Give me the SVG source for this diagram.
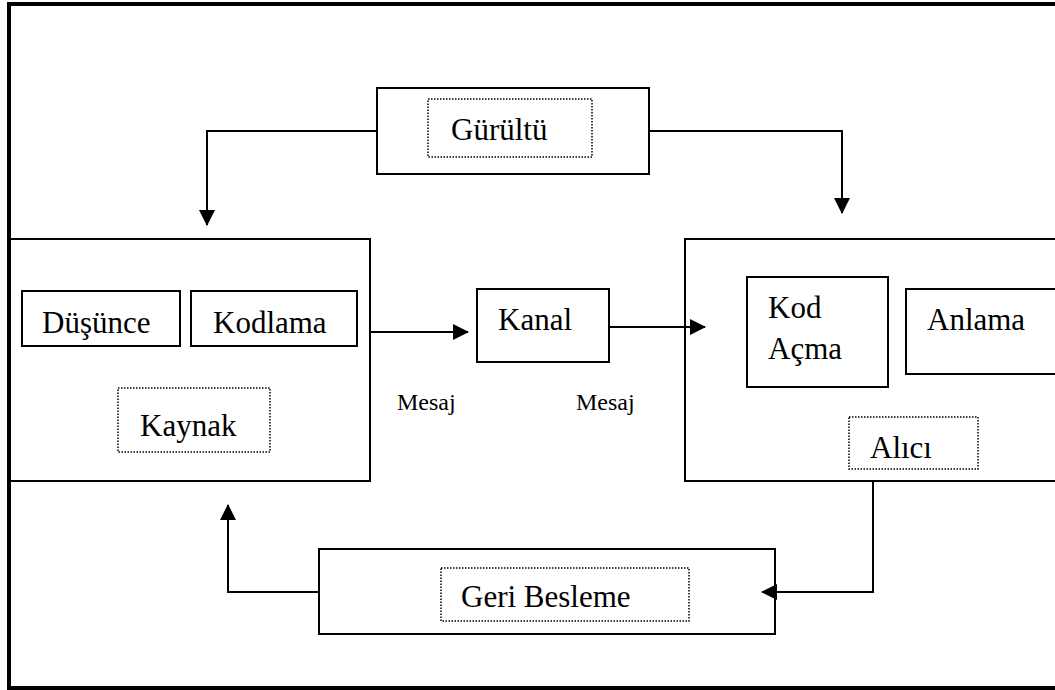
<svg xmlns="http://www.w3.org/2000/svg" width="1055" height="690" viewBox="0 0 1055 690">
<style>
.box{fill:none;stroke:#000;stroke-width:2}
.dot{fill:none;stroke:#000;stroke-width:1.5;stroke-dasharray:1.5 1.5}
.t{font-family:"Liberation Serif","Times New Roman",serif;font-size:31px;fill:#000}
.s{font-family:"Liberation Serif","Times New Roman",serif;font-size:24px;fill:#000}
.c{fill:none;stroke:#000;stroke-width:2}
</style>
<defs>
<marker id="ah" viewBox="0 0 16 16" refX="15" refY="8" markerWidth="16" markerHeight="16" markerUnits="userSpaceOnUse" orient="auto">
<path d="M0,0 L16,8 L0,16 Z" fill="#000"/>
</marker>
</defs>
<rect width="1055" height="690" fill="#fff"/>
<g id="frame">
<path d="M1060,4 L9,4 L9,688 L1060,688" fill="none" stroke="#000" stroke-width="4"/>
</g>
<g id="connectors">
<path class="c" d="M377,131 L207,131 L207,225" marker-end="url(#ah)"/>
<path class="c" d="M649,131 L842,131 L842,213" marker-end="url(#ah)"/>
<path class="c" d="M370,332 L468,332" marker-end="url(#ah)"/>
<path class="c" d="M609,327 L705,327" marker-end="url(#ah)"/>
<path class="c" d="M873,481 L873,592 L762,592" marker-end="url(#ah)"/>
<path class="c" d="M319,592 L228,592 L228,505" marker-end="url(#ah)"/>
</g>
<g id="gurultu">
<rect class="box" x="377" y="88" width="272" height="86"/>
<rect class="dot" x="428" y="99" width="164" height="58"/>
<text class="t" x="451" y="140">Gürültü</text>
</g>
<g id="kaynak">
<rect class="box" x="9" y="239" width="361" height="242"/>
<rect class="dot" x="118" y="388" width="152" height="64"/>
<text class="t" x="140" y="436">Kaynak</text>
</g>
<g id="dusunce">
<rect class="box" x="22" y="291" width="158" height="55"/>
<text class="t" x="42" y="333">Düşünce</text>
</g>
<g id="kodlama">
<rect class="box" x="191" y="291" width="166" height="55"/>
<text class="t" x="213" y="333">Kodlama</text>
</g>
<g id="kanal">
<rect class="box" x="477" y="289" width="132" height="73"/>
<text class="t" x="498" y="330">Kanal</text>
</g>
<g id="mesaj1"><text class="s" x="397" y="410">Mesaj</text></g>
<g id="mesaj2"><text class="s" x="576" y="410">Mesaj</text></g>
<g id="alici">
<rect class="box" x="685" y="239" width="380" height="242"/>
<rect class="dot" x="849" y="417" width="129" height="52"/>
<text class="t" x="870" y="458">Alıcı</text>
</g>
<g id="kodacma">
<rect class="box" x="747" y="277" width="141" height="110"/>
<text class="t" x="768" y="318">Kod</text>
<text class="t" x="768" y="359">Açma</text>
</g>
<g id="anlama">
<rect class="box" x="906" y="289" width="160" height="85"/>
<text class="t" x="927" y="330">Anlama</text>
</g>
<g id="geribesleme">
<rect class="box" x="319" y="549" width="456" height="85"/>
<rect class="dot" x="441" y="568" width="248" height="53"/>
<text class="t" x="461" y="607">Geri Besleme</text>
</g>
</svg>
